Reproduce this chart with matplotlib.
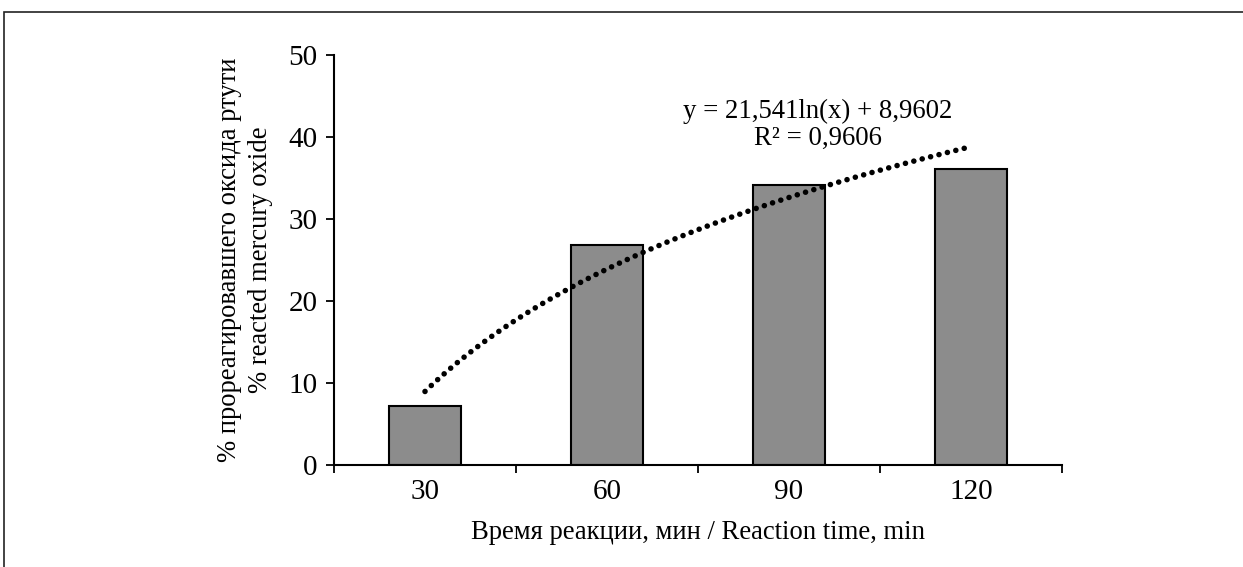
import numpy as np
import matplotlib
matplotlib.use('Agg')
import matplotlib.pyplot as plt
from matplotlib.patches import Rectangle

plt.rcParams['font.family'] = ['Liberation Serif', 'DejaVu Serif']

times = ['30', '60', '90', '120']
reacted = [7.2, 26.8, 34.1, 36.1]
# trendline coefficients as printed on the chart
trend_a = 21.541
trend_b = 8.9602
trend_label = 'y = 21,541ln(x) + 8,9602\nR² = 0,9606'

fig = plt.figure(figsize=(12.43, 5.67), dpi=100)
ax = fig.add_axes([0.2687, 0.18, 0.5857, 0.723])

x = np.arange(1, len(times) + 1)
ax.bar(x, reacted, width=0.40, color='#8c8c8c', edgecolor='black', linewidth=1.5, zorder=2)

xs = np.linspace(1, len(times), 200)
ax.plot(xs, trend_a * np.log(xs) + trend_b, color='black', linewidth=4,
        linestyle=(0, (0.01, 1.55)), dash_capstyle='round', zorder=3)

ax.text(3.16, 38.3, trend_label, ha='center', va='bottom', fontsize=19.3, linespacing=1.08)

ax.set_xlim(0.5, len(times) + 0.5)
ax.set_ylim(0, 50)
ax.set_yticks(range(0, 51, 10))
ax.set_xticks(x)
ax.set_xticklabels(times)
ax.set_xticks(np.arange(0.5, len(times) + 1, 1), minor=True)
ax.tick_params(axis='x', which='major', length=0, labelsize=21, pad=10)
ax.tick_params(axis='x', which='minor', length=6, width=1.3, direction='out')
ax.tick_params(axis='y', length=6, width=1.3, direction='out', labelsize=21, pad=6)

for s in ['top', 'right']:
    ax.spines[s].set_visible(False)
for s in ['left', 'bottom']:
    ax.spines[s].set_linewidth(1.5)

ax.set_xlabel('Время реакции, мин / Reaction time, min', fontsize=19.2, labelpad=11)
ax.set_ylabel('% прореагировавшего оксида ртути\n% reacted mercury oxide', fontsize=19.2,
              linespacing=1.3, labelpad=11)

# frame around the picture (top and left edges visible)
fig.patches.append(Rectangle((4 / 1243, -0.5), 1.5, 1.5 - 12 / 567,
                             transform=fig.transFigure, fill=False,
                             edgecolor='#222222', linewidth=1.2))

fig.savefig('out.png', dpi=100)
